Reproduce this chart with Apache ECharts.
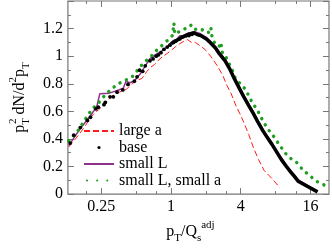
<!DOCTYPE html>
<html><head><meta charset="utf-8">
<script src="https://cdn.jsdelivr.net/npm/echarts@6/dist/echarts.min.js"></script>
<style>html,body{margin:0;padding:0;background:#fff}#c{width:332px;height:249px}</style>
</head><body><div id="c"></div><script>
// ---- data (pT/Qs_adj , pT^2 dN/d^2pT) ----
const largeA_x = [0.131,0.15,0.17,0.184,0.2,0.22,0.236,0.26,0.285,0.32,0.36,0.413,0.46,0.5,0.564,0.62,0.67,0.723,0.8,0.86,0.928,1.0,1.1,1.19,1.3,1.39,1.5,1.62,1.75,1.96,2.2,2.51,2.8,3.03,3.3,3.64,4.0,4.25,4.7,5.13,5.7,6.38,7.5,8.7];
const largeA_y = [0.341,0.40,0.46,0.50,0.55,0.59,0.61,0.64,0.68,0.72,0.74,0.76,0.80,0.82,0.84,0.89,0.92,0.94,0.98,1.0,1.02,1.04,1.07,1.09,1.11,1.12,1.10,1.10,1.08,1.05,1.00,0.93,0.86,0.79,0.73,0.64,0.57,0.52,0.43,0.34,0.25,0.17,0.11,0.046];

const baseDots_x = [0.135,0.145,0.165,0.19,0.202,0.225,0.236,0.264,0.271,0.298,0.318,0.343,0.384,0.426,0.483,0.51,0.536,0.57,0.6,0.659,0.7,0.746,0.78,0.82,0.87,0.928,0.98,1.05,1.1,1.19,1.27,1.35,1.43,1.52];
const baseDots_y = [0.37,0.427,0.482,0.534,0.557,0.618,0.63,0.648,0.664,0.705,0.705,0.739,0.755,0.795,0.818,0.85,0.898,0.89,0.93,0.966,0.98,1.0,1.01,1.025,1.05,1.066,1.08,1.10,1.11,1.125,1.14,1.148,1.15,1.159];

const baseLine_x = [1.0,1.1,1.2,1.3,1.43,1.57,1.7,1.8,2.02,2.2,2.43,2.6,2.93,3.2,3.53,3.9,4.25,4.7,5.13,5.6,6.18,6.8,7.44,8.2,8.97,9.9,10.8,11.7,12.6,18.4];
const baseLine_y = [1.09,1.11,1.13,1.145,1.16,1.17,1.155,1.15,1.125,1.095,1.057,1.02,0.966,0.91,0.835,0.765,0.705,0.64,0.585,0.525,0.462,0.408,0.36,0.303,0.25,0.2,0.159,0.125,0.091,0.016];

const smallL_x = [0.131,0.162,0.202,0.229,0.243,0.294,0.354,0.388,0.409,0.44,0.48,0.547,0.6,0.659,0.73,0.82,0.93,1.05,1.12,1.19,1.3,1.43,1.5,1.6,1.8,2.02,2.2,2.43,2.6,2.93,3.2,3.53,3.9,4.25,4.7,5.13,5.6,6.18,6.8,7.44,8.2,8.97,9.9,10.8,11.7,12.6,18.4];
const smallL_y = [0.352,0.466,0.568,0.636,0.727,0.732,0.755,0.768,0.818,0.807,0.818,0.875,0.93,0.982,1.01,1.034,1.07,1.114,1.12,1.148,1.15,1.17,1.155,1.178,1.162,1.137,1.107,1.069,1.032,0.978,0.922,0.847,0.777,0.717,0.652,0.597,0.537,0.474,0.42,0.372,0.315,0.262,0.212,0.171,0.137,0.103,0.02];

const smallLa_x = [0.131,0.151,0.168,0.187,0.209,0.239,0.271,0.312,0.365,0.462,0.582,0.659,0.746,0.9,1.03,1.06,1.08,1.19,1.33,1.48,1.6,1.67,1.84,2.1,2.21,2.25,2.39,2.6,2.7,2.75,2.93,3.12,3.32,3.53,4.0,4.39,4.97,5.63,6.18,6.78,7.67,8.7,10.2,12.2,13.9,15.7,17.8,21.2];
const smallLa_y = [0.386,0.436,0.496,0.557,0.618,0.664,0.72,0.768,0.807,0.85,0.954,0.989,1.04,1.102,1.15,1.24,1.16,1.18,1.2,1.225,1.19,1.2,1.193,1.17,1.21,1.15,1.09,1.07,1.1,1.03,1.011,0.954,0.92,0.852,0.795,0.761,0.671,0.602,0.534,0.477,0.42,0.352,0.273,0.228,0.17,0.136,0.095,0.064];

const X_TICKS = [0.25, 1, 4, 16];
const X_TICK_LABELS = ['0.25', '1', '4', '16'];
const X_MINOR = [0.1875, 0.5, 0.75, 2, 3, 8, 12];
const X_RANGE = [0.129, 23.1];
const Y_RANGE = [0, 1.4];

// ---- chart ----
const L2 = Math.log2;
const pts = (xs, ys) => xs.map((x, i) => [L2(x), ys[i]]);
const FONT = 'Liberation Serif';
const AX = '#777';
const xmin = L2(X_RANGE[0]), xmax = L2(X_RANGE[1]);

function xAxisDef(pos, major) {
  const vals = (major ? X_TICKS : X_MINOR).map(L2);
  return {
    type: 'value', position: pos, min: xmin, max: xmax,
    axisLine: { show: false, onZero: false }, splitLine: { show: false },
    axisTick: { show: true, inside: true, length: major ? 6 : 3, customValues: vals, lineStyle: { color: AX, width: 1 } },
    axisLabel: {
      show: major && pos === 'bottom', customValues: vals, margin: 5,
      fontFamily: FONT, fontSize: 16, color: '#000',
      formatter: v => { const i = X_TICKS.findIndex(t => Math.abs(L2(t) - v) < 1e-6); return i >= 0 ? X_TICK_LABELS[i] : ''; }
    }
  };
}
const xAxes = [xAxisDef('bottom', true), xAxisDef('bottom', false), xAxisDef('top', true), xAxisDef('top', false)];
xAxes[0].name = '{m|p}{sub|T}{m|/Q}{sub|s}{sup|adj}';
xAxes[0].nameLocation = 'middle';
xAxes[0].nameGap = 20;
const rich = {
  m: { fontFamily: FONT, fontSize: 16, color: '#000', lineHeight: 24 },
  sub: { fontFamily: FONT, fontSize: 11, color: '#000', lineHeight: 11, verticalAlign: 'bottom' },
  sup: { fontFamily: FONT, fontSize: 11, color: '#000', lineHeight: 11, verticalAlign: 'top' },
  supb: { fontFamily: FONT, fontSize: 11, color: '#000', lineHeight: 11, verticalAlign: 'top', padding: [0, 0, 0, -6] }
};
xAxes[0].nameTextStyle = { rich, padding: [0, 16, 0, 0] };

function yAxisDef(pos) {
  return {
    type: 'value', position: pos, min: Y_RANGE[0], max: Y_RANGE[1], interval: 0.2,
    axisLine: { show: false, onZero: false }, splitLine: { show: false },
    axisTick: { show: true, inside: true, length: 6, lineStyle: { color: AX } },
    minorTick: { show: true, splitNumber: 2, length: 3, lineStyle: { color: AX } },
    axisLabel: {
      show: pos === 'left', margin: 5, fontFamily: FONT, fontSize: 16, color: '#000',
      formatter: v => v > 1.3 ? '' : String(+v.toFixed(1))
    }
  };
}
const yAxes = [yAxisDef('left'), yAxisDef('right')];
yAxes[0].name = '{m|p}{sub|T}{supb|2}{m| dN/d}{sup|2}{m|p}{sub|T}';
yAxes[0].nameLocation = 'middle';
yAxes[0].nameRotate = 90;
yAxes[0].nameGap = 24;
yAxes[0].nameTextStyle = { rich };

const option = {
  animation: false,
  backgroundColor: '#fff',
  grid: { left: 51, right: 3, top: 1, bottom: 42, show: true, borderColor: AX, borderWidth: 1.2, backgroundColor: 'transparent' },
  xAxis: xAxes,
  yAxis: yAxes,
  legend: {
    orient: 'vertical', left: 83, top: 123, padding: 0, itemWidth: 30, itemHeight: 4, itemGap: 0.5,
    textStyle: { fontFamily: FONT, fontSize: 16, color: '#000' },
    data: [
      { name: 'large a', itemStyle: { opacity: 0 } },
      { name: 'base' },
      { name: 'small L', itemStyle: { opacity: 0 } },
      { name: 'small L, small a', itemStyle: { opacity: 0 }, lineStyle: { type: [0.1, 10], dashOffset: -3 } }
    ]
  },
  series: [
    { name: 'large a', type: 'line', data: pts(largeA_x, largeA_y), symbol: 'none', z: 3,
      lineStyle: { color: '#ff1a1a', width: 1, type: [6, 3] }, itemStyle: { color: '#ff1a1a' } },
    { name: 'base', type: 'line', data: pts(baseDots_x, baseDots_y), symbol: 'circle', symbolSize: 3.8, z: 6,
      itemStyle: { color: '#000' }, lineStyle: { width: 0, color: '#000' } },
    { name: 'small L', type: 'line', data: pts(smallL_x, smallL_y), symbol: 'none', z: 2,
      lineStyle: { color: '#8c348c', width: 1.5 }, itemStyle: { color: '#8c348c' } },
    { name: 'small L, small a', type: 'line', data: pts(smallLa_x, smallLa_y), symbol: 'none', z: 4,
      lineStyle: { color: '#1f9e1f', width: 3.4, type: [0.1, 7], cap: 'round' }, itemStyle: { color: '#1f9e1f' } },
    { name: 'base', type: 'line', data: pts(baseLine_x, baseLine_y), symbol: 'none', z: 6,
      lineStyle: { color: '#000', width: 3.5 }, itemStyle: { color: '#000' } }
  ]
};
const chart = echarts.init(document.getElementById('c'), null, { renderer: 'canvas' });
chart.setOption(option);
</script></body></html>
